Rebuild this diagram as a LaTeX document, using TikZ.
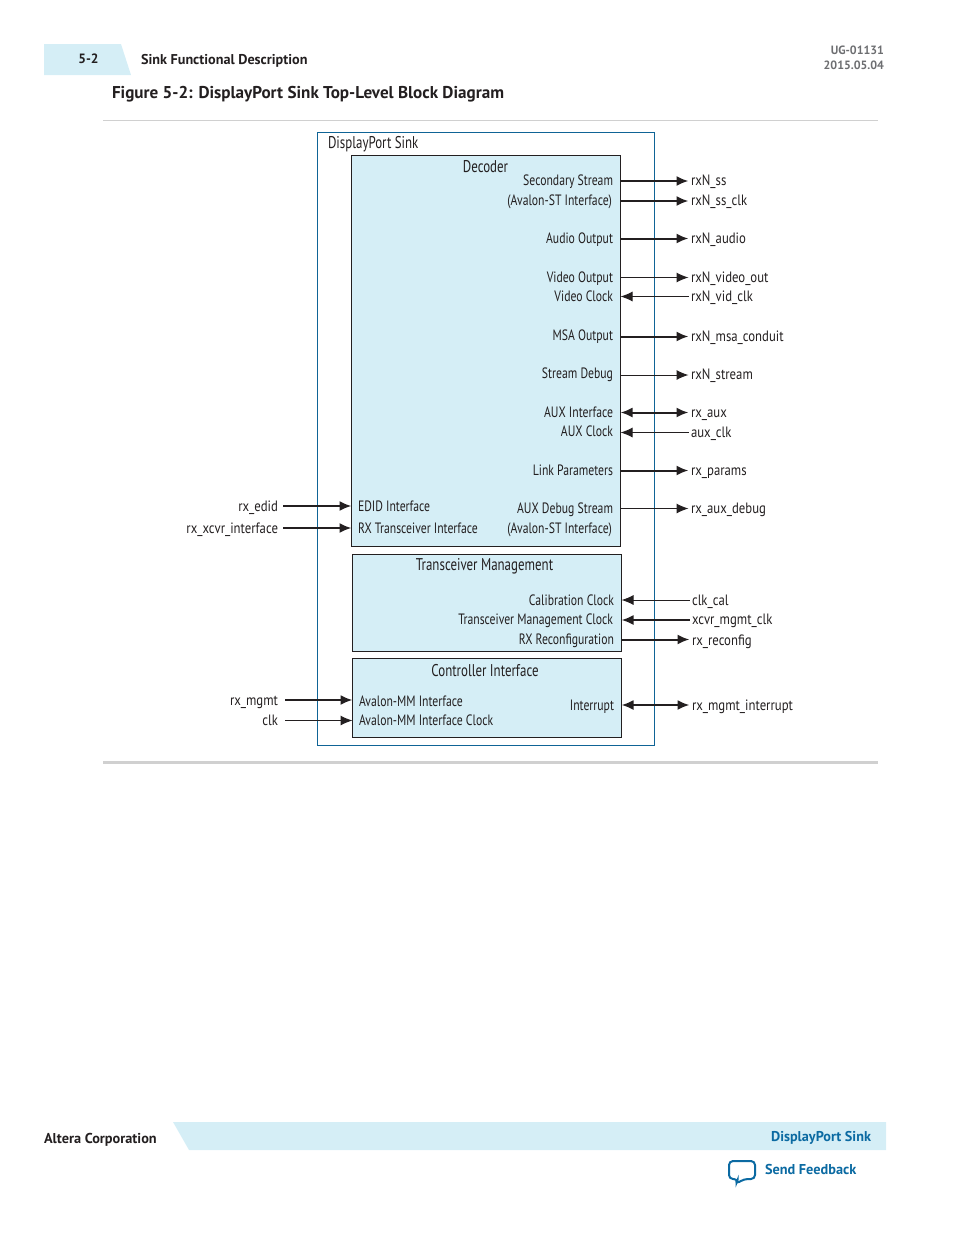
\documentclass[tikz,border=0pt]{standalone}
\usepackage{fontspec}
\usetikzlibrary{arrows.meta}
\setmainfont{PT Sans}
\newfontfamily\condfont[FakeStretch=0.76]{PT Sans}
\newfontfamily\portfont[FakeStretch=0.78]{PT Sans}
\newfontfamily\sigfont[FakeStretch=0.85]{PT Sans}
\definecolor{tabblue}{HTML}{D5EEF6}
\definecolor{linkblue}{HTML}{0B6AA2}
\definecolor{frameblue}{HTML}{0F6496}
\definecolor{ruleclr}{HTML}{D0D0D0}
\definecolor{inkclr}{HTML}{231F20}
\definecolor{stampclr}{HTML}{6D6E71}
\begin{document}
\begin{tikzpicture}[x=1pt, y=-1pt, every node/.style={inner sep=0pt, outer sep=0pt},
                    block/.style={draw=inkclr, line width=1pt, fill=tabblue},
                    port/.style={font=\portfont\fontsize{15}{17}\selectfont, text=inkclr, text height=13pt, text depth=2pt},
                    sig/.style={font=\sigfont\fontsize{15}{17}\selectfont, text=inkclr, text height=13pt, text depth=2pt},
                    port east/.style={port, anchor=east},
                    port west/.style={port, anchor=west},
                    sig out/.style={sig, anchor=west, inner xsep=2.5pt},
                    sig dec/.style={sig out, text height=11pt},
                    sig in/.style={sig, anchor=east, inner xsep=5pt},
                    title/.style={font=\condfont\fontsize{17}{19}\selectfont, text=inkclr, text height=14pt, text depth=2pt},
                    heavy/.style={every edge/.style={draw=inkclr, line width=2pt, -{Latex[length=12pt,width=10pt]}}},
                    heavy both/.style={every edge/.style={draw=inkclr, line width=2pt, {Latex[length=12pt,width=10pt]}-{Latex[length=12pt,width=10pt]}}},
                    light/.style={every edge/.style={draw=inkclr, line width=1pt, -{Latex[length=12pt,width=10pt]}}}]
	\useasboundingbox (0,0) rectangle (954,1235);

	% page furniture
	\fill[tabblue] (44,44) -- (121,44) -- (131,75) -- (44,75) -- cycle;
	\fill[tabblue] (173,1122) -- (886,1122) -- (886,1150) -- (189,1150) -- cycle;
	\draw[ruleclr, line width=1pt] (103,120.5) -- (878,120.5);
	\draw[ruleclr, line width=3pt] (103,762.5) -- (878,762.5);
	\node[font=\bfseries\fontsize{13.5}{15}\selectfont, text=inkclr] (pagenum) at (88.5,58.5) {5-2};
	\node[font=\bfseries\fontsize{14.2}{16}\selectfont, text=inkclr, anchor=west] (section) at (141,61) {Sink Functional Description};
	\node[font=\bfseries\fontsize{12}{14}\selectfont, text=stampclr, anchor=east] (docid) at (884,50) {UG-01131};
	\node[font=\bfseries\fontsize{12}{14}\selectfont, text=stampclr, anchor=east] (docdate) at (884,65) {2015.05.04};
	\node[font=\bfseries\fontsize{17.1}{19}\selectfont, text=inkclr, anchor=west] (figtitle) at (112,94.5) {Figure 5-2: DisplayPort Sink Top-Level Block Diagram};
	\node[font=\bfseries\fontsize{14.3}{16}\selectfont, text=inkclr, anchor=west] (company) at (44,1140) {Altera Corporation};
	\node[font=\bfseries\fontsize{14.2}{16}\selectfont, text=linkblue, anchor=east] (footlink) at (871,1137.5) {DisplayPort Sink};
	\node[font=\bfseries\fontsize{14.3}{16}\selectfont, text=linkblue, anchor=west] (feedback) at (765,1169.5) {Send Feedback};
	\draw[linkblue, line width=2pt, rounded corners=4pt, fill=white]
		(729,1161) -- (755,1161) -- (755,1179) -- (744,1179) -- (736,1184) -- (738,1179) -- (729,1179) -- cycle;

	% blocks
	\node[draw=frameblue, line width=1pt, minimum width=337pt, minimum height=613pt, anchor=north west] (sink) at (317.5,132.5) {};
	\node[block, minimum width=269pt, minimum height=391pt, anchor=north west] (decoder) at (351.5,155.5) {};
	\node[block, minimum width=269pt, minimum height=97pt, anchor=north west] (xcvr) at (352.5,554.5) {};
	\node[block, minimum width=269pt, minimum height=79pt, anchor=north west] (ctrl) at (352.5,658.5) {};

	\node[title, anchor=west] (sinktitle) at (328,142) {DisplayPort Sink};
	\node[title] (dectitle) at (485.5,166) {Decoder};
	\node[title] (xcvrtitle) at (484.5,564) {Transceiver Management};
	\node[title] (ctrltitle) at (485,670) {Controller Interface};

	% decoder ports
	\node[port east] (p1) at (613,180) {Secondary Stream};
	\node[port east] (p2) at (612,200) {(Avalon-ST Interface)};
	\node[port east] (p3) at (613,238) {Audio Output};
	\node[port east] (p4) at (613,277) {Video Output};
	\node[port east] (p5) at (613,296) {Video Clock};
	\node[port east] (p6) at (613,335) {MSA Output};
	\node[port east] (p7) at (613,373) {Stream Debug};
	\node[port east] (p8) at (613,412) {AUX Interface};
	\node[port east] (p9) at (613,431) {AUX Clock};
	\node[port east] (p10) at (613,470) {Link Parameters};
	\node[port east] (p11) at (613,508) {AUX Debug Stream};
	\node[port east] (p12) at (612,528) {(Avalon-ST Interface)};
	\node[port west] (p13) at (358,506) {EDID Interface};
	\node[port west] (p14) at (358,528) {RX Transceiver Interface};

	% transceiver and controller ports
	\node[port east] (p15) at (614,600) {Calibration Clock};
	\node[port east] (p16) at (613,619) {Transceiver Management Clock};
	\node[port east] (p17) at (614,639) {RX Reconfiguration};
	\node[port east] (p18) at (614,705) {Interrupt};
	\node[port west] (p19) at (359,701) {Avalon-MM Interface};
	\node[port west] (p20) at (359,720) {Avalon-MM Interface Clock};

	% signals on the right
	\node[sig dec] (s1) at (688.5,181) {rxN\_ss};
	\node[sig dec] (s2) at (688.5,201) {rxN\_ss\_clk};
	\node[sig dec] (s3) at (688.5,238.5) {rxN\_audio};
	\node[sig dec] (s4) at (688.5,277.5) {rxN\_video\_out};
	\node[sig dec] (s5) at (688.5,296.5) {rxN\_vid\_clk};
	\node[sig dec] (s6) at (688.5,336.5) {rxN\_msa\_conduit};
	\node[sig dec] (s7) at (688.5,375) {rxN\_stream};
	\node[sig dec] (s8) at (688.5,412.5) {rx\_aux};
	\node[sig dec] (s9) at (688.5,432.5) {aux\_clk};
	\node[sig dec] (s10) at (688.5,470.5) {rx\_params};
	\node[sig dec] (s11) at (688.5,508.5) {rx\_aux\_debug};
	\node[sig out] (s12) at (689.5,600) {clk\_cal};
	\node[sig dec] (s13) at (689.5,620) {xcvr\_mgmt\_clk};
	\node[sig out] (s14) at (689.5,639.5) {rx\_reconfig};
	\node[sig out] (s15) at (689.5,705) {rx\_mgmt\_interrupt};

	% signals on the left
	\node[sig in] (s16) at (283,506) {rx\_edid};
	\node[sig in] (s17) at (283,528) {rx\_xcvr\_interface};
	\node[sig in, inner xsep=7pt] (s18) at (285,700) {rx\_mgmt};
	\node[sig in, inner xsep=7pt, text height=11pt] (s19) at (285,720.5) {clk};

	\path[heavy]
		(decoder.east |- s1) edge (s1.west)
		(decoder.east |- s2) edge (s2.west)
		(decoder.east |- s3) edge (s3.west)
		(decoder.east |- s6) edge (s6.west)
		(decoder.east |- s10) edge (s10.west)
		(xcvr.east |- s14) edge (s14.west)
		(s13.west) edge (xcvr.east |- s13)
		(s16.east) edge (decoder.west |- s16)
		(s17.east) edge (decoder.west |- s17)
		(s18.east) edge (ctrl.west |- s18);

	\path[heavy both]
		(decoder.east |- s8) edge (s8.west)
		(xcvr.east |- s15) edge (s15.west);

	\path[light]
		(decoder.east |- s4) edge (s4.west)
		(decoder.east |- s7) edge (s7.west)
		(decoder.east |- s11) edge (s11.west)
		(s5.west) edge (decoder.east |- s5)
		(s9.west) edge (decoder.east |- s9)
		(s12.west) edge (xcvr.east |- s12)
		(s19.east) edge (ctrl.west |- s19);
\end{tikzpicture}
\end{document}
